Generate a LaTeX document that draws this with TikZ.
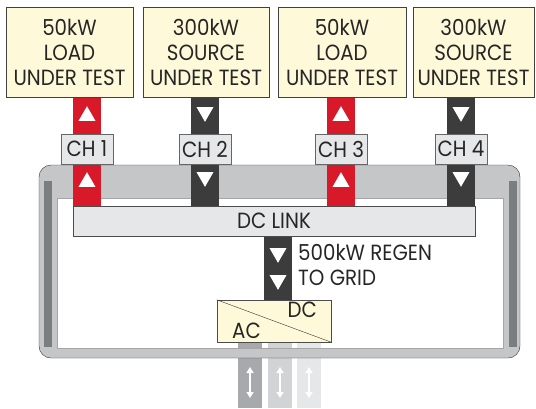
\documentclass[tikz,border=0pt]{standalone}
\usepackage{fontspec}
\setmainfont[FakeStretch=0.9]{Poppins}
\usepackage{tikz}
\usetikzlibrary{shapes,arrows,arrows.meta,positioning,calc,backgrounds}
\usepackage{xcolor}

\definecolor{chred}{HTML}{D7192A}
\definecolor{chdark}{HTML}{3C3C3C}
\definecolor{cream}{HTML}{FEF9D8}
\definecolor{panel}{HTML}{E6E7E8}
\definecolor{framegray}{HTML}{C4C6C7}
\definecolor{sidegray}{HTML}{7B7E7F}
\definecolor{gridA}{HTML}{A7A9AC}
\definecolor{gridB}{HTML}{D1D3D4}
\definecolor{gridC}{HTML}{E6E7E8}
\definecolor{inkgray}{HTML}{262626}

\pgfdeclarelayer{gridlayer}
\pgfdeclarelayer{framelayer}
\pgfdeclarelayer{buslayer}
\pgfsetlayers{gridlayer,framelayer,buslayer,main}

\begin{document}
\begin{tikzpicture}[
    x=1pt, y=-1pt,
    font=\fontsize{22}{25}\selectfont, text=inkgray,
    dut/.style={rectangle, draw=black!75, fill=cream, minimum width=#1, minimum height=90pt, align=center, inner sep=0pt},
    chan/.style={rectangle, draw=black!60, fill=panel, minimum width=52pt, minimum height=30pt, inner sep=0pt},
    busbar/.style={draw=#1, line width=28pt},
    gridbar/.style={draw=#1, line width=24pt},
    upmark/.style={regular polygon, regular polygon sides=3, fill=white, minimum size=19.6pt, inner sep=0pt},
    downmark/.style={upmark, shape border rotate=180},
    twoway/.style={{Triangle[length=6pt,width=7pt]}-{Triangle[length=6pt,width=7pt]}, white, line width=1.8pt}
]
    \useasboundingbox (0,0) rectangle (536,408);

    % Top units under test
    \node[dut=127pt] (load1) at (69.5,52) {50kW\\LOAD\\UNDER TEST};
    \node[dut=126pt] (src2) at (206,52) {300kW\\SOURCE\\UNDER TEST};
    \node[dut=128pt] (load3) at (342,52) {50kW\\LOAD\\UNDER TEST};
    \node[dut=121pt] (src4) at (473.5,52) {300kW\\SOURCE\\UNDER TEST};

    % Channels
    \node[chan] (ch1) at (87,149) {CH 1};
    \node[chan] (ch2) at (205,149) {CH 2};
    \node[chan] (ch3) at (341,149) {CH 3};
    \node[chan] (ch4) at (461,149) {CH 4};

    % DC link and converter
    \node[rectangle, draw=black!70, fill=panel, minimum width=402pt, minimum height=30pt, inner sep=0pt] (dclink) at (274,221) {DC LINK};
    \node[rectangle, draw=black!70, fill=cream, minimum width=114pt, minimum height=42pt, inner sep=0pt] (acdc) at (274,321) {};
    \draw[black!80] (acdc.north west) -- (acdc.south east);
    \node[anchor=base east, inner sep=0pt] (dclbl) at (317,317) {DC};
    \node[anchor=base west, inner sep=0pt] (aclbl) at (232,338) {AC};
    \node[anchor=north west, align=left, inner sep=0pt] (regenlbl) at (298,244) {500kW REGEN\\TO GRID};

    % Cabinet frame
    \begin{pgfonlayer}{framelayer}
        \fill[framegray, even odd rule] [rounded corners=12pt] (39,165) rectangle (520,358) [sharp corners] (57,198) rectangle (503,348);
        \draw[black!80, rounded corners=12pt] (39,165) rectangle (520,358);
        \draw[black!35] (57,198) rectangle (503,348);
        \fill[sidegray] (44,181) rectangle (52,347);
        \fill[sidegray] (509,181) rectangle (517,347);
    \end{pgfonlayer}

    % Power paths
    \begin{pgfonlayer}{buslayer}
        \draw[busbar=chred] (ch1 |- load1.south) -- (ch1 |- dclink.north);
        \draw[busbar=chdark] (ch2 |- src2.south) -- (ch2 |- dclink.north);
        \draw[busbar=chred] (ch3 |- load3.south) -- (ch3 |- dclink.north);
        \draw[busbar=chdark] (ch4 |- src4.south) -- (ch4 |- dclink.north);
        \draw[busbar=chdark] (dclink.south -| 278,0) -- (acdc.north -| 278,0);
    \end{pgfonlayer}
    \begin{pgfonlayer}{gridlayer}
        \draw[gridbar=gridA] (acdc.south -| 250,0) -- (250,408);
        \draw[gridbar=gridB] (acdc.south -| 280,0) -- (280,408);
        \draw[gridbar=gridC] (acdc.south -| 309,0) -- (309,408);
    \end{pgfonlayer}

    % Flow marks
    \node[upmark] (m1a) at (ch1 |- 0,116) {};
    \node[upmark] (m1b) at (ch1 |- 0,182) {};
    \node[downmark] (m2a) at (ch2 |- 0,112) {};
    \node[downmark] (m2b) at (ch2 |- 0,177) {};
    \node[upmark] (m3a) at (ch3 |- 0,116) {};
    \node[upmark] (m3b) at (ch3 |- 0,182) {};
    \node[downmark] (m4a) at (ch4 |- 0,112) {};
    \node[downmark] (m4b) at (ch4 |- 0,177) {};
    \node[downmark] (r1) at (278,253) {};
    \node[downmark] (r2) at (278,280) {};

    % Grid connection
    \draw[twoway] (250,367) -- (250,398);
    \draw[twoway] (280,367) -- (280,398);
    \draw[twoway] (309,367) -- (309,398);
\end{tikzpicture}
\end{document}
